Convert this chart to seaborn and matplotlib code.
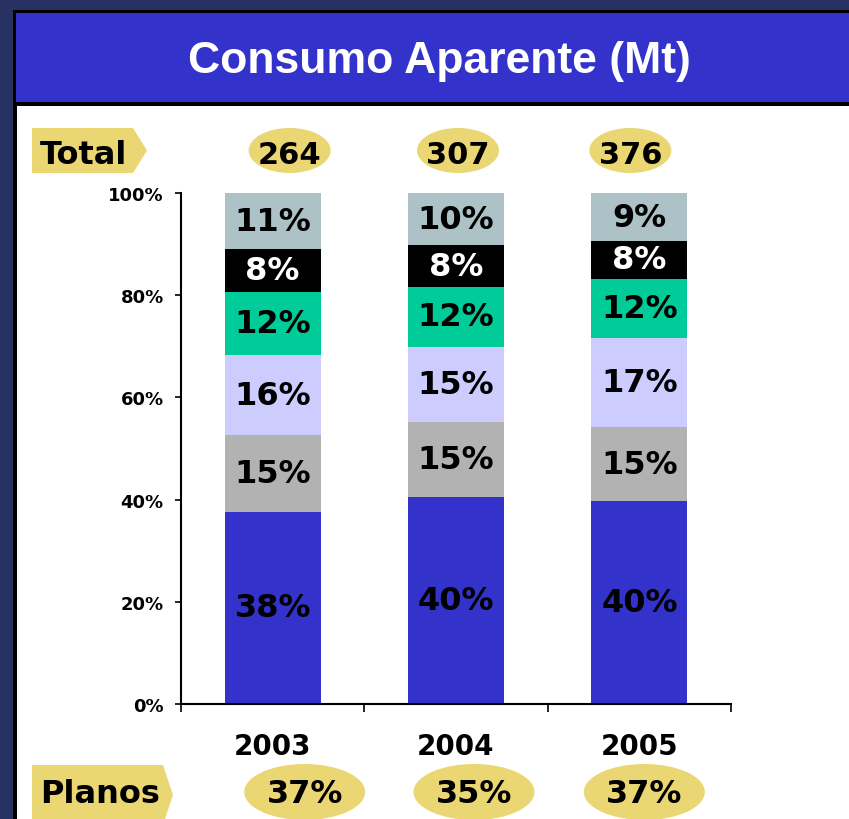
import numpy as np
import pandas as pd
import matplotlib
matplotlib.use("Agg")
import matplotlib.pyplot as plt
import seaborn as sns
from matplotlib.patches import Rectangle, Polygon, Ellipse
from matplotlib.transforms import blended_transform_factory

# ---------------- data ----------------
years = ["2003", "2004", "2005"]
segments = ["s1", "s2", "s3", "s4", "s5", "s6"]          # bottom -> top
seg_2003 = [37.6, 15.0, 15.7, 12.3, 8.4, 11.0]
seg_2004 = [40.5, 14.7, 14.7, 11.7, 8.2, 10.2]
seg_2005 = [39.7, 14.5, 17.4, 11.6, 7.4, 9.4]
lab_2003 = [38, 15, 16, 12, 8, 11]
lab_2004 = [40, 15, 15, 12, 8, 10]
lab_2005 = [40, 15, 17, 12, 8, 9]
totals = [264, 307, 376]
planos = [37, 35, 37]
yticks = [0, 20, 40, 60, 80, 100]
ytick_labels = ["0%", "20%", "40%", "60%", "80%", "100%"]
title = "Consumo Aparente (Mt)"

# ---------------- style ----------------
seg_colors = ["#3333CC", "#B2B2B2", "#CCCCFF", "#00CC99", "#000000", "#ADC2C7"]
label_colors = ["black", "black", "black", "black", "white", "black"]
navy = "#283262"
yellow = "#EAD672"
W, H = 849, 820

sns.set_theme(style="white")
plt.rcParams["font.family"] = ["DejaVu Sans"]
plt.rcParams["text.color"] = "black"
plt.rcParams["xtick.color"] = "black"
plt.rcParams["ytick.color"] = "black"

fig = plt.figure(figsize=(W / 100, H / 100), dpi=100)
fig.patch.set_facecolor(navy)

def fx(x):
    return x / W

def fy(y):
    return 1 - y / H

# panel: black frame, blue title box, white body
fig.patches.append(Rectangle((fx(13), fy(H)), 1, fy(11) - fy(H), transform=fig.transFigure,
                             facecolor="black", edgecolor="none", zorder=0))
fig.patches.append(Rectangle((fx(16), fy(103)), 1, fy(14) - fy(103), transform=fig.transFigure,
                             facecolor="#3333CC", edgecolor="none", zorder=1))
fig.patches.append(Rectangle((fx(17), fy(H)), 1, fy(107) - fy(H), transform=fig.transFigure,
                             facecolor="white", edgecolor="none", zorder=1))
fig.text(fx(439), fy(62), title, color="white", fontsize=32, fontweight="bold",
         family="Liberation Sans", ha="center", va="center", zorder=3)

# ---------------- axes ----------------
ax = fig.add_axes([fx(181), fy(705), fx(731) - fx(181), fy(194) - fy(705)])
ax.set_facecolor("none")
ax.set_zorder(5)

df = pd.DataFrame({"year": np.repeat(years, len(segments)),
                   "segment": segments * len(years),
                   "value": seg_2003 + seg_2004 + seg_2005})
df["cum"] = df.groupby("year")["value"].cumsum()
df["cum"] = df["cum"] / df.groupby("year")["value"].transform("sum") * 100

bar_w = 0.523
for i in range(len(segments) - 1, -1, -1):
    sub = df[df["segment"] == segments[i]]
    sns.barplot(data=sub, x="year", y="cum", order=years, color=seg_colors[i],
                saturation=1, width=bar_w, errorbar=None, linewidth=0, ax=ax)

labels_by_year = [lab_2003, lab_2004, lab_2005]
for j, yr in enumerate(years):
    sub = df[df["year"] == yr].reset_index(drop=True)
    bottoms = np.concatenate([[0], sub["cum"].values[:-1]])
    for i in range(len(segments)):
        mid = (bottoms[i] + sub["cum"].values[i]) / 2
        ax.text(j, mid, f"{labels_by_year[j][i]}%", ha="center", va="center",
                fontsize=23, fontweight="bold", color=label_colors[i])

ax.set_xlim(-0.5, 2.5)
ax.set_ylim(0, 100)
ax.set_xlabel("")
ax.set_ylabel("")
for s in ["top", "right"]:
    ax.spines[s].set_visible(False)
for s in ["left", "bottom"]:
    ax.spines[s].set_color("black")
    ax.spines[s].set_linewidth(1.5)

ax.set_yticks(yticks)
ax.set_yticklabels(ytick_labels)
ax.tick_params(axis="y", length=4.5, width=1.2, color="black", direction="out",
               pad=8, labelsize=13, left=True, labelcolor="black")
for t in ax.get_yticklabels():
    t.set_fontweight("bold")

ax.set_xticks(range(len(years)))
ax.set_xticklabels(years)
ax.tick_params(axis="x", length=0, pad=20, labelsize=20, labelcolor="black")
for t in ax.get_xticklabels():
    t.set_fontweight("bold")
ax.set_xticks([-0.5, 0.5, 1.5, 2.5], minor=True)
ax.tick_params(axis="x", which="minor", length=6, width=1.2, color="black",
               direction="out", bottom=True)

# ---------------- header / footer badges ----------------
tr = blended_transform_factory(ax.transData, fig.transFigure)
px_per_unit = (731 - 181) / 3.0

def arrow_box(x0, x1, xp, y0, y1):
    ym = (y0 + y1) / 2
    pts = [(x0, y0), (x1, y0), (xp, ym), (x1, y1), (x0, y1)]
    return Polygon([(fx(a), fy(b)) for a, b in pts], closed=True, transform=fig.transFigure,
                   facecolor=yellow, edgecolor="none", zorder=2)

fig.patches.append(arrow_box(32, 133, 147, 129, 174))
fig.text(fx(40), fy(156), "Total", fontsize=23, fontweight="bold", ha="left", va="center",
         color="black", zorder=3)
fig.patches.append(arrow_box(32, 163, 173, 766, 826))
fig.text(fx(40), fy(795), "Planos", fontsize=23, fontweight="bold", ha="left", va="center",
         color="black", zorder=3)

total_offsets = [17, 2, -9]
for j, v in enumerate(totals):
    cx = j + total_offsets[j] / px_per_unit
    e = Ellipse((cx, fy(151.5)), 82 / px_per_unit, 45 / H, transform=tr,
                facecolor=yellow, edgecolor="none", clip_on=False, zorder=2)
    ax.add_patch(e)
    ax.text(cx, fy(156), f"{v}", transform=tr, ha="center", va="center",
            fontsize=22, fontweight="bold", clip_on=False, zorder=3)

planos_offsets = [32, 18, 5]
for j, v in enumerate(planos):
    cx = j + planos_offsets[j] / px_per_unit
    e = Ellipse((cx, fy(793)), 121 / px_per_unit, 56 / H, transform=tr,
                facecolor=yellow, edgecolor="none", clip_on=False, zorder=2)
    ax.add_patch(e)
    ax.text(cx, fy(795), f"{v}%", transform=tr, ha="center", va="center",
            fontsize=23, fontweight="bold", clip_on=False, zorder=3)

fig.savefig("out.png", dpi=100, facecolor=fig.get_facecolor())
